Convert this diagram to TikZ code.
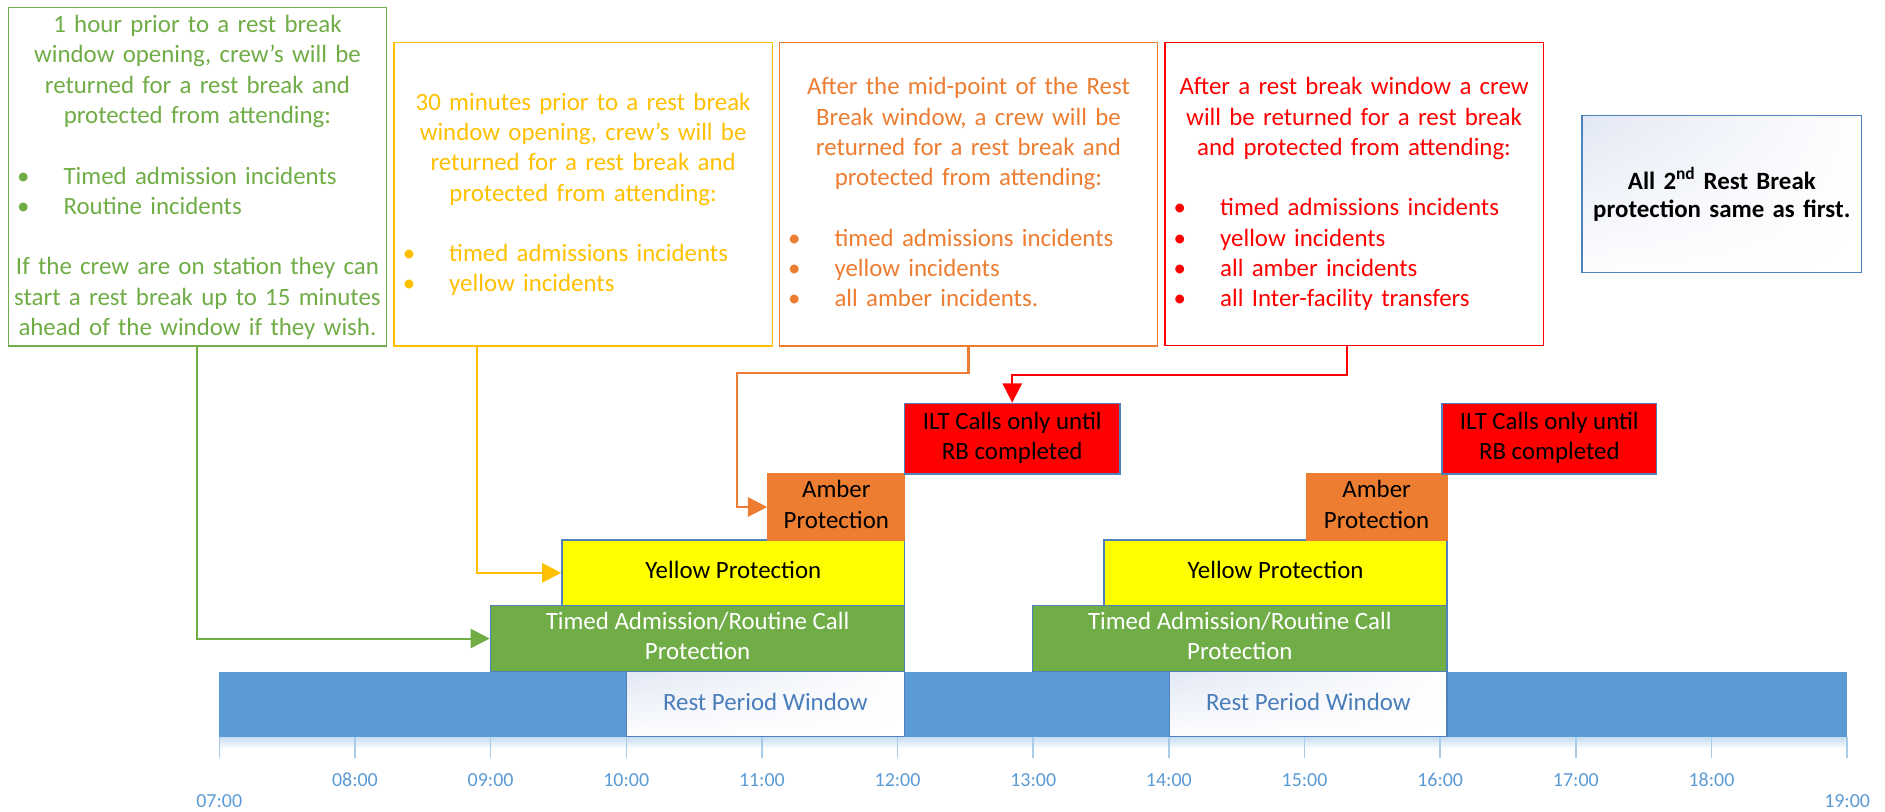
\documentclass[tikz,border=0pt]{standalone}
\usepackage{fontspec}
\setmainfont{Carlito}
\usetikzlibrary{arrows.meta,calc,shadings}
\definecolor{cgreen}{HTML}{70AD47}
\definecolor{cgold}{HTML}{FFC000}
\definecolor{corange}{HTML}{ED7D31}
\definecolor{cred}{HTML}{FF0000}
\definecolor{cyel}{HTML}{FFFF00}
\definecolor{cband}{HTML}{5B9BD5}
\definecolor{cborder}{HTML}{4F81BD}
\definecolor{crest}{HTML}{4A7EBB}
\definecolor{ctick}{HTML}{A9CBEA}
\definecolor{clabel}{HTML}{5B9BD5}
\definecolor{cshadeA}{HTML}{E2E8F4}
\newcommand\bl[1]{\leavevmode\hbox to \hsize{\hspace*{12.5pt}\makebox[0pt]{\textbullet}\hspace*{33.5pt}#1\hfil}}
\begin{document}
\begin{tikzpicture}[x=1pt,y=-1pt,
  desc/.style={draw, line width=1pt, inner sep=0pt, fill=white},
  desctext/.style={anchor=north, inner sep=0pt, align=center, font=\fontsize{20.7}{25.2}\selectfont},
  prot/.style={draw=cborder, line width=1.2pt, inner sep=0pt, align=center, font=\fontsize{20.7}{25.2}\selectfont},
  conn/.style={line width=1.7pt, -{Triangle[length=16pt,width=16pt]}},
  tickline/.style={draw=ctick, line width=1.2pt},
  ticklabel/.style={text=clabel, inner sep=0pt, font=\fontsize{16.6}{20}\selectfont},
  softshade/.style={shade, upper left=cshadeA, upper right=white!97!cshadeA, lower left=white!93!cshadeA, lower right=white}
]
\useasboundingbox (0,0) rectangle (1568,675);

% description boxes
\node[desc, draw=cgreen, minimum width=314.7pt, minimum height=281.7pt] (gbox) at (164.25,146.95) {};
\node[desctext, text width=314.7pt, text=cgreen] (gtext) at (164.25,9.3) {\strut 1 hour prior to a rest break\\ window opening, crew’s will be\\ returned for a rest break and\\ protected from attending:\\[25.2pt] \bl{Timed admission incidents}\\ \bl{Routine incidents}\\[25.2pt] If the crew are on station they can\\ start a rest break up to 15 minutes\\ ahead of the window if they wish.};

\node[desc, draw=cgold, minimum width=314.7pt, minimum height=252.6pt] (ybox) at (485.05,161.5) {};
\node[desctext, text width=314.7pt, text=cgold] (ytext) at (485.05,73.8) {\strut 30 minutes prior to a rest break\\ window opening, crew’s will be\\ returned for a rest break and\\ protected from attending:\\[25.2pt] \bl{timed admissions incidents}\\ \bl{yellow incidents}};

\node[desc, draw=corange, minimum width=314.8pt, minimum height=252.6pt] (obox) at (805.6,161.5) {};
\node[desctext, text width=314.8pt, text=corange] (otext) at (805.6,61) {\strut After the mid-point of the Rest\\ Break window, a crew will be\\ returned for a rest break and\\ protected from attending:\\[25.2pt] \bl{timed admissions incidents}\\ \bl{yellow incidents}\\ \bl{all amber incidents.}};

\node[desc, draw=cred, minimum width=314.7pt, minimum height=252.3pt] (rbox) at (1126.35,161.35) {};
\node[desctext, text width=314.7pt, text=cred] (rtext) at (1126.35,61) {\strut After a rest break window a crew\\ will be returned for a rest break\\ and protected from attending:\\[25.2pt] \bl{timed admissions incidents}\\ \bl{yellow incidents}\\ \bl{all amber incidents}\\ \bl{all Inter-facility transfers}};

\node[draw=cborder, line width=1.2pt, inner sep=0pt, softshade, minimum width=232.5pt, minimum height=130.5pt] (nbox) at (1432.25,161.35) {};
\node[anchor=north, inner sep=0pt, align=center, text width=232pt, font=\fontsize{20.7}{23.6}\selectfont\bfseries] (ntext) at (1432.25,140.5) {\strut All 2\smash{\textsuperscript{nd}} Rest Break\\ protection same as first.};

% band
\shade[top color=cband!35, bottom color=white] (182.4,612.8) rectangle (1536.5,623);
\node[fill=cband, inner sep=0pt, minimum width=1354.1pt, minimum height=54.1pt] (band) at (859.45,585.75) {};

% rest windows
\node[draw=cborder, line width=1pt, inner sep=0pt, softshade, minimum width=231.3pt, minimum height=53.8pt, text=crest, font=\fontsize{20.7}{25.2}\selectfont] (rest1) at (636.65,585.6) {\strut Rest Period Window};
\node[draw=cborder, line width=1pt, inner sep=0pt, softshade, minimum width=230.6pt, minimum height=53.8pt, text=crest, font=\fontsize{20.7}{25.2}\selectfont] (rest2) at (1088.3,585.6) {\strut Rest Period Window};

% protection blocks, first break
\node[prot, fill=cgreen, text=white, minimum width=344.5pt, minimum height=54.7pt] (green1) at (580.25,531.15) {\strut Timed Admission/Routine Call\\ Protection\strut};
\node[prot, fill=cyel, text=black, minimum width=285pt, minimum height=54.6pt] (yellow1) at (610,476.5) {\strut Yellow Protection};
\node[prot, draw=corange, fill=corange, text=black, minimum width=113.7pt, minimum height=54.9pt] (amber1) at (695.65,421.75) {\strut Amber\\ Protection\strut};
\node[prot, fill=cred, text=black, minimum width=179pt, minimum height=58.8pt] (ilt1) at (842,364.9) {\strut ILT Calls only until\\ RB completed\strut};

% protection blocks, second break
\node[prot, fill=cgreen, text=white, minimum width=344.6pt, minimum height=54.7pt] (green2) at (1031.3,531.15) {\strut Timed Admission/Routine Call\\ Protection\strut};
\node[prot, fill=cyel, text=black, minimum width=285.2pt, minimum height=54.6pt] (yellow2) at (1061,476.5) {\strut Yellow Protection};
\node[prot, draw=corange, fill=corange, text=black, minimum width=117pt, minimum height=54.9pt] (amber2) at (1145.1,421.75) {\strut Amber\\ Protection\strut};
\node[prot, fill=cred, text=black, minimum width=178.5pt, minimum height=58.8pt] (ilt2) at (1288.75,364.9) {\strut ILT Calls only until\\ RB completed\strut};

% connectors
\draw[conn, draw=cgreen] (gbox.south) |- (green1.west);
\draw[conn, draw=cgold] ($(ybox.south west)+(69.3,0)$) |- (yellow1.west);
\draw[conn, draw=corange] (obox.south) -- ++(0,21.7) -- ++(-192.8,0) |- (amber1.west);
\draw[conn, draw=cred] ($(rbox.south)+(-5.7,0)$) -- ++(0,24.1) -| (ilt1.north);

% time axis
\foreach \i/\lab/\ly in {0/07:00/666.3, 1/08:00/648.8, 2/09:00/648.8, 3/10:00/648.8, 4/11:00/648.8, 5/12:00/648.8, 6/13:00/648.8, 7/14:00/648.8, 8/15:00/648.8, 9/16:00/648.8, 10/17:00/648.8, 11/18:00/648.8, 12/19:00/666.3} {
  \coordinate (tk\i) at ({182.4+\i*112.842},612.8);
  \draw[tickline] (tk\i) -- ++(0,17.5);
  \node[ticklabel] (tl\i) at ({182.4+\i*112.842},\ly) {\lab};
}
\end{tikzpicture}
\end{document}
